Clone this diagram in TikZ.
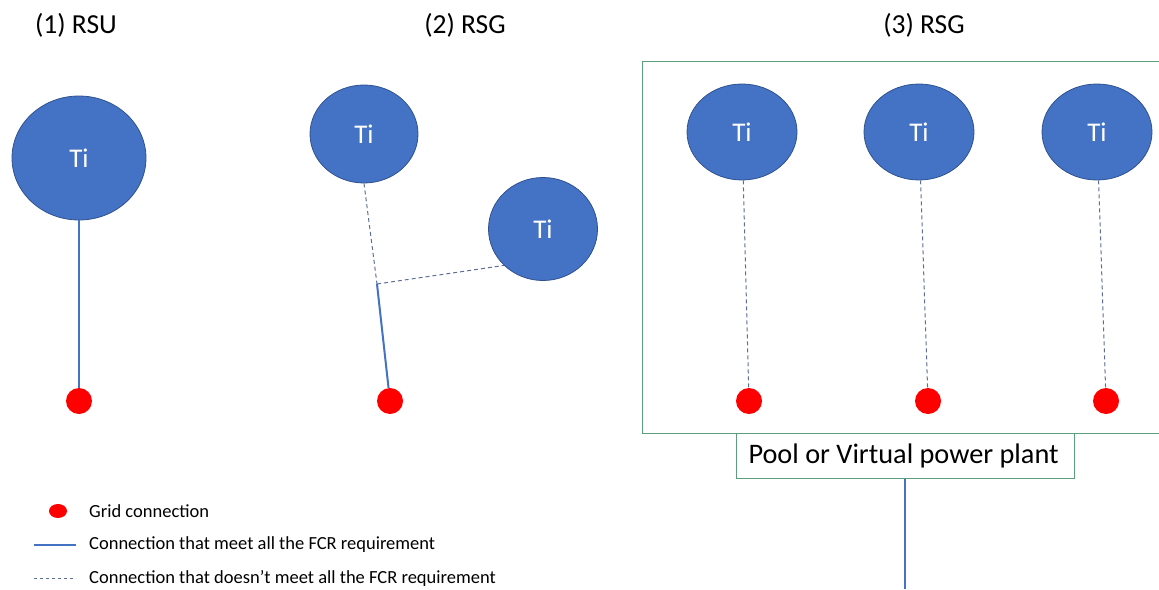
\documentclass[tikz,border=0pt]{standalone}
\usepackage{fontspec}
\setmainfont{Carlito}
\usetikzlibrary{shapes.geometric}
\definecolor{tiblue}{HTML}{4472C4}
\definecolor{tiedge}{HTML}{2F528F}
\definecolor{boxgreen}{RGB}{90,160,125}
\definecolor{dashgrey}{RGB}{95,110,150}
\tikzset{
  ti/.style={ellipse, fill=tiblue, draw=tiedge, line width=0.8pt, inner sep=0pt, text=white, font=\fontsize{27}{32}\selectfont},
  gridpt/.style={circle, fill=red, draw=none, minimum size=26pt, inner sep=0pt},
  okline/.style={draw=tiblue, line width=2pt},
  nokline/.style={draw=dashgrey, line width=1pt, dash pattern=on 4pt off 3pt},
  title/.style={font=\fontsize{27.5}{32}\selectfont, inner sep=0pt},
  legend/.style={font=\fontsize{18.5}{22}\selectfont, anchor=west, inner sep=0pt},
}
\begin{document}
\begin{tikzpicture}[x=1pt,y=-1pt]
\useasboundingbox (0,0) rectangle (1159,589);
\clip (0,0) rectangle (1159,589);
% titles
\node[title] (t1) at (76,25) {(1) RSU};
\node[title] (t2) at (465,25) {(2) RSG};
\node[title] (t3) at (924,25) {(3) RSG};
% (1)
\node[ti, minimum width=134pt, minimum height=124pt] (a) at (79,158) {Ti};
\node[gridpt] (ga) at (79,401) {};
\draw[okline] (a) -- (ga);
% (2)
\node[ti, minimum width=108pt, minimum height=98pt] (b1) at (364,134) {Ti};
\node[ti, minimum width=109pt, minimum height=103pt] (b2) at (543,229) {Ti};
\node[gridpt] (gb) at (390,401) {};
\coordinate (j) at (377,284);
\draw[nokline] (b1.south) -- (j);
\draw[nokline] (j) -- (b2.223);
\draw[okline] (j) -- (gb);
% (3)
\node[draw=boxgreen, line width=1.2pt, minimum width=540pt, minimum height=372pt, anchor=north west, inner sep=0pt] (pool) at (642,61) {};
\node[ti, minimum width=110pt, minimum height=96pt] (c1) at (742,132) {Ti};
\node[ti, minimum width=110pt, minimum height=96pt] (c2) at (919,132) {Ti};
\node[ti, minimum width=110pt, minimum height=96pt] (c3) at (1097,132) {Ti};
\node[gridpt] (gc1) at (749,401) {};
\node[gridpt] (gc2) at (928,401) {};
\node[gridpt] (gc3) at (1106,401) {};
\draw[nokline] (c1) -- (gc1);
\draw[nokline] (c2) -- (gc2);
\draw[nokline] (c3) -- (gc3);
\node[draw=boxgreen, fill=white, line width=1.2pt, minimum width=338pt, minimum height=45pt, anchor=north west, inner sep=0pt] (vpp) at (736,433) {};
\node[font=\fontsize{28.3}{33}\selectfont, inner sep=0pt] (vpptext) at ([xshift=-2pt]vpp.center) {Pool or Virtual power plant};
\coordinate (vppout) at (905,589);
\draw[okline] (vpp.south -| vppout) -- (vppout);
% legend
\node[fill=red, minimum width=18pt, minimum height=14pt, inner sep=0pt, ellipse] (lg) at (58,511) {};
\node[legend] (lgt) at (89,511) {Grid connection};
\coordinate (ls1) at (34,545);
\coordinate (ls2) at (76,545);
\draw[draw=tiblue, line width=1.5pt] (ls1) -- (ls2);
\node[legend] (lst) at (89,545) {Connection that meet all the FCR requirement};
\coordinate (ld1) at (34,578);
\coordinate (ld2) at (76,578);
\draw[draw=dashgrey, line width=1pt, dash pattern=on 3pt off 3pt] (ld1) -- (ld2);
\node[legend] (ldt) at (89,578) {Connection that doesn’t meet all the FCR requirement};
\end{tikzpicture}
\end{document}
